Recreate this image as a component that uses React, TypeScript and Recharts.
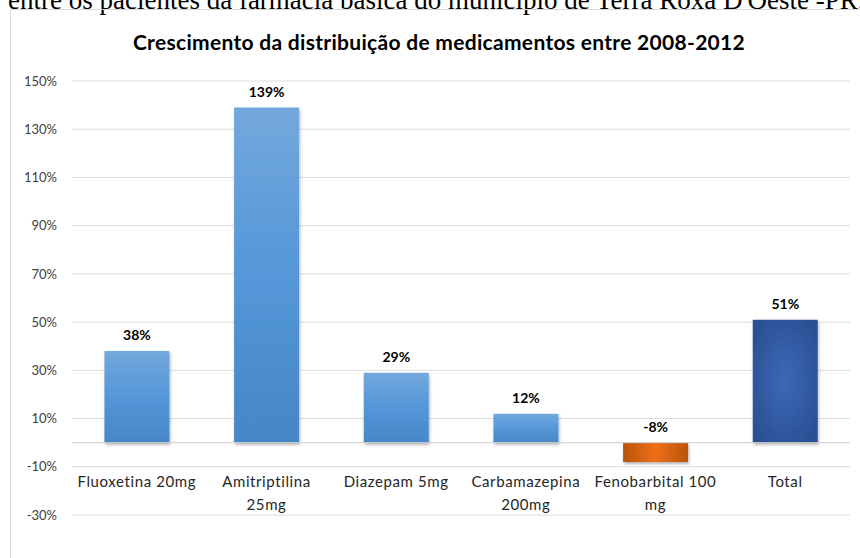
import { BarChart, Bar, XAxis, YAxis, CartesianGrid, ReferenceLine, LabelList, Cell } from "recharts"

const categories = ["Fluoxetina 20mg", "Amitriptilina 25mg", "Diazepam 5mg", "Carbamazepina 200mg", "Fenobarbital 100 mg", "Total"]
const tickLines = [["Fluoxetina 20mg"], ["Amitriptilina", "25mg"], ["Diazepam 5mg"], ["Carbamazepina", "200mg"], ["Fenobarbital 100", "mg"], ["Total"]]
const growth = [38, 139, 29, 12, -8, 51]
const yTicks = [-30, -10, 10, 30, 50, 70, 90, 110, 130, 150]

const data = categories.map((name, i) => ({ name, value: growth[i] }))

const font = "Lato, 'Open Sans', sans-serif"

function fillFor(name: string, value: number) {
  if (value < 0) return "url(#orangeGrad)"
  if (name === "Total") return "url(#navyGrad)"
  return "url(#blueGrad)"
}

function CategoryTick({ x, y, payload }: { x?: number; y?: number; payload?: { value: string; index: number } }) {
  const lines = tickLines[payload?.index ?? 0] || [payload?.value]
  return (
    <text x={x} y={(y ?? 0) - 36} textAnchor="middle" fill="#262626" fontSize={15} letterSpacing={0.6} fontFamily={font}>
      {lines.map((l, i) => (
        <tspan key={i} x={x} dy={i === 0 ? 0 : 23}>{l}</tspan>
      ))}
    </text>
  )
}

function ValueLabel(props: any) {
  const { x, y, width, height, value } = props
  const top = Math.min(y, y + height)
  return (
    <text x={x + width / 2} y={top - 11} textAnchor="middle" fill="#000" fontSize={14} fontWeight={700} fontFamily={font}>
      {value}%
    </text>
  )
}

export default function App() {
  return (
    <div style={{ position: "fixed", left: 0, top: 0, width: 860, height: 558, overflow: "hidden", background: "#fff" }}>
      <div style={{ position: "absolute", left: 8, top: -13, fontFamily: "'Liberation Serif', serif", fontSize: 27, lineHeight: 1, whiteSpace: "nowrap", color: "#000" }}>
        entre os pacientes da farmácia básica do município de Terra Roxa D&apos;Oeste -PR.
      </div>
      <div style={{ position: "absolute", left: 10, top: 9, width: 858, height: 600, border: "1px solid #d9d9d9", borderRadius: 2 }} />
      <div style={{ position: "absolute", left: 0, top: 29, width: 860, textAlign: "center", fontFamily: font, fontWeight: 700, fontSize: 21, letterSpacing: 0.3, color: "#000", paddingLeft: 18, boxSizing: "border-box" }}>
        Crescimento da distribuição de medicamentos entre 2008-2012
      </div>
      <div style={{ position: "absolute", left: 0, top: 0 }}>
        <BarChart width={860} height={558} data={data} margin={{ top: 81, right: 10, bottom: 0, left: 10 }} barCategoryGap="25%">
          <defs>
            <linearGradient id="blueGrad" x1="0" y1="0" x2="0" y2="1">
              <stop offset="0%" stopColor="#73a8dc" />
              <stop offset="50%" stopColor="#5497d8" />
              <stop offset="100%" stopColor="#4686c6" />
            </linearGradient>
            <linearGradient id="orangeGrad" x1="0" y1="0" x2="1" y2="0">
              <stop offset="0%" stopColor="#b8540f" />
              <stop offset="50%" stopColor="#ee6f15" />
              <stop offset="100%" stopColor="#b8540f" />
            </linearGradient>
            <radialGradient id="navyGrad" cx="50%" cy="50%" r="60%">
              <stop offset="0%" stopColor="#3b69b8" />
              <stop offset="100%" stopColor="#2b5094" />
            </radialGradient>
            <filter id="barShadow" x="-20%" y="-20%" width="140%" height="140%">
              <feDropShadow dx="1" dy="2" stdDeviation="1.5" floodColor="#000" floodOpacity="0.3" />
            </filter>
          </defs>
          <CartesianGrid vertical={false} stroke="#dcdcdc" />
          <XAxis
            dataKey="name"
            height={43}
            axisLine={false}
            tickLine={false}
            interval={0}
            tick={<CategoryTick />}
          />
          <YAxis
            domain={[-30, 150]}
            ticks={yTicks}
            width={62}
            axisLine={false}
            tickLine={false}
            tickMargin={9}
            tickFormatter={(v: number) => `${v}%`}
            tick={{ fill: "#404040", fontSize: 13, fontFamily: font }}
          />
          <ReferenceLine y={0} stroke="#cfcfcf" strokeWidth={1} />
          <Bar dataKey="value" isAnimationActive={false} filter="url(#barShadow)">
            {data.map((d) => (
              <Cell key={d.name} fill={fillFor(d.name, d.value)} />
            ))}
            <LabelList dataKey="value" content={<ValueLabel />} />
          </Bar>
        </BarChart>
      </div>
    </div>
  )
}
